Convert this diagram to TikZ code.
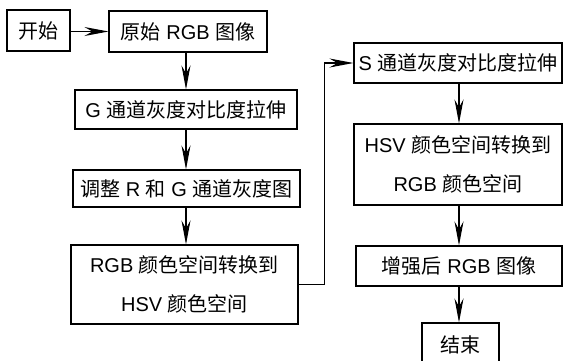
\documentclass[tikz,border=0pt]{standalone}
\usepackage{fontspec}
\setmainfont{Liberation Sans}
\newfontfamily\cjk{Noto Sans CJK SC}
\newcommand{\zh}[1]{{\cjk #1}}
\usetikzlibrary{arrows.meta}
\begin{document}
\begin{tikzpicture}[x=1pt,y=-1pt,
  box/.style={draw, line width=1.1pt, inner sep=0pt, align=center, font=\fontsize{20}{24}\selectfont},
  twoline/.style={box, font=\fontsize{20}{38.5}\selectfont},
  arr/.style={line width=1.1pt, -{Stealth[length=24pt,width=9pt,inset=8pt]}}]
\clip (0,0) rectangle (563,360);
\fill[white] (0,0) rectangle (563,360);
\node[box, minimum width=63pt, minimum height=41pt] (start) at (38.5,30.5) {\zh{开始}};
\node[box, minimum width=158pt, minimum height=41pt] (orig) at (188,31.5) {\zh{原始} RGB \zh{图像}};
\node[box, minimum width=222pt, minimum height=39pt] (gs) at (186,109.5) {G \zh{通道灰度对比度拉伸}};
\node[box, minimum width=227pt, minimum height=37pt] (adj) at (186.5,188.5) {\zh{调整} R \zh{和} G \zh{通道灰度图}};
\node[twoline, minimum width=227pt, minimum height=79pt] (tohsv) at (184.5,284.5) {RGB \zh{颜色空间转换到}\\HSV \zh{颜色空间}};
\node[box, minimum width=208pt, minimum height=40pt] (ss) at (458,63) {S \zh{通道灰度对比度拉伸}};
\node[twoline, minimum width=208pt, minimum height=81pt] (torgb) at (458,164.5) {HSV \zh{颜色空间转换到}\\RGB \zh{颜色空间}};
\node[box, minimum width=206pt, minimum height=40pt] (enh) at (459,266) {\zh{增强后} RGB \zh{图像}};
\node[box, minimum width=77pt, minimum height=44pt] (fin) at (460.5,345) {\zh{结束}};
\draw[arr] (start.east |- orig.west) -- (orig.west);
\draw[arr] (orig.south -| 186,0) -- (gs.north -| 186,0);
\draw[arr] (gs.south -| 186,0) -- (adj.north -| 186,0);
\draw[arr] (adj.south -| 186,0) -- (tohsv.north -| 186,0);
\draw[arr] (tohsv.east) -- ++(26,0) |- (ss.west);
\draw[arr] (ss.south -| 459,0) -- (torgb.north -| 459,0);
\draw[arr] (torgb.south -| 459,0) -- (enh.north -| 459,0);
\draw[arr] (enh.south -| 459,0) -- (fin.north -| 459,0);
\end{tikzpicture}
\end{document}
